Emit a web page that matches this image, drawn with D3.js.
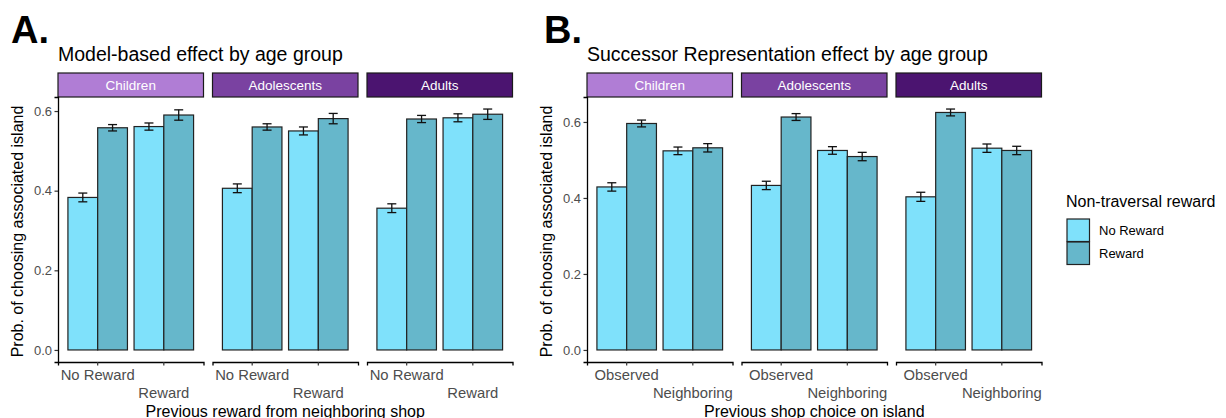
<!DOCTYPE html>
<html>
<head>
<meta charset="utf-8">
<script src="https://cdn.jsdelivr.net/npm/d3@7"></script>
<style>
  body { margin: 0; background: #fff; }
  svg { display: block; font-family: "Liberation Sans", Arial, sans-serif; }
</style>
</head>
<body>
<svg width="1226" height="418"></svg>
<script>
// facet groups and fill levels
var groups = ["Children", "Adolescents", "Adults"];
var fillLevels = ["No Reward", "Reward"];

// panel A: previous reward from neighboring shop
var mbCats = ["No Reward", "Reward"];
// order per group: [cat1-NoReward, cat1-Reward, cat2-NoReward, cat2-Reward]
var mbChildren = [0.383, 0.558, 0.561, 0.590];
var mbAdolescents = [0.406, 0.560, 0.550, 0.581];
var mbAdults = [0.356, 0.580, 0.583, 0.592];
var mbChildrenSE = [0.011, 0.008, 0.009, 0.013];
var mbAdolescentsSE = [0.011, 0.008, 0.010, 0.013];
var mbAdultsSE = [0.011, 0.009, 0.010, 0.013];

// panel B: previous shop choice on island
var srCats = ["Observed", "Neighboring"];
var srChildren = [0.429, 0.596, 0.524, 0.532];
var srAdolescents = [0.433, 0.613, 0.525, 0.509];
var srAdults = [0.403, 0.625, 0.531, 0.525];
var srChildrenSE = [0.011, 0.009, 0.010, 0.011];
var srAdolescentsSE = [0.011, 0.009, 0.010, 0.011];
var srAdultsSE = [0.012, 0.009, 0.011, 0.011];

var yTicks = [0, 0.2, 0.4, 0.6];

var stripColors = ["#b07dd5", "#7a42a1", "#4b1470"];
var fillColors = ["#7fe1fb", "#66b7cb"];

var svg = d3.select("svg");
svg.append("rect").attr("width", 1226).attr("height", 418).attr("fill", "#fff");

var panelTop = 97, panelBottom = 362, panelW = 145.5, step = 154.5;

function drawPanel(o) {
  var rows = [];
  o.means.forEach(function(m, gi) {
    m.forEach(function(v, k) {
      rows.push({ group: groups[gi], cat: o.cats[Math.floor(k / 2)], fill: fillLevels[k % 2], mean: v, se: o.ses[gi][k] });
    });
  });

  var ymax = d3.max(rows, function(d) { return d.mean + d.se; });
  var y = d3.scaleLinear()
    .domain([-0.05 * ymax, ymax * 1.05])
    .range([panelBottom, panelTop]);

  var x = d3.scaleBand().domain(o.cats).range([0, panelW]).paddingInner(0.1).paddingOuter(0.15);
  var xs = d3.scaleBand().domain(fillLevels).range([0, x.bandwidth()]);
  var color = d3.scaleOrdinal().domain(fillLevels).range(fillColors);

  // letter + title
  svg.append("text").attr("x", o.letterX).attr("y", 43)
    .attr("font-size", 38).attr("font-weight", "bold").text(o.letter);
  svg.append("text").attr("x", o.left).attr("y", 61)
    .attr("font-size", 19.5).attr("fill", "#000").text(o.title);

  groups.forEach(function(g, gi) {
    var px = o.left + gi * step;
    var pg = svg.append("g").attr("transform", "translate(" + px + ",0)");

    // strip
    pg.append("rect").attr("x", 0).attr("y", 73).attr("width", panelW).attr("height", panelTop - 73)
      .attr("fill", stripColors[gi]).attr("stroke", "#1a1a1a").attr("stroke-width", 1.2);
    pg.append("text").attr("x", panelW / 2).attr("y", 85).attr("dy", "0.35em")
      .attr("text-anchor", "middle").attr("font-size", 13.5).attr("fill", "#fff").text(g);

    var data = rows.filter(function(d) { return d.group === g; });

    pg.selectAll(".bar").data(data).enter().append("rect")
      .attr("class", "bar")
      .attr("x", function(d) { return x(d.cat) + xs(d.fill); })
      .attr("width", xs.bandwidth())
      .attr("y", function(d) { return y(d.mean); })
      .attr("height", function(d) { return y(0) - y(d.mean); })
      .attr("fill", function(d) { return color(d.fill); })
      .attr("stroke", "#222").attr("stroke-width", 1.2);

    var eb = pg.selectAll(".eb").data(data).enter().append("g").attr("class", "eb")
      .attr("stroke", "#111").attr("stroke-width", 1.3);
    var cx = function(d) { return x(d.cat) + xs(d.fill) + xs.bandwidth() / 2; };
    eb.append("line").attr("x1", cx).attr("x2", cx)
      .attr("y1", function(d) { return y(d.mean - d.se); })
      .attr("y2", function(d) { return y(d.mean + d.se); });
    [-1, 1].forEach(function(s) {
      eb.append("line")
        .attr("x1", function(d) { return cx(d) - 4.5; })
        .attr("x2", function(d) { return cx(d) + 4.5; })
        .attr("y1", function(d) { return y(d.mean + s * d.se); })
        .attr("y2", function(d) { return y(d.mean + s * d.se); });
    });

    // x axis
    var xa = pg.append("g").attr("transform", "translate(0," + panelBottom + ")")
      .call(d3.axisBottom(x).tickSizeOuter(0).tickSize(3.5).tickPadding(4.3));
    xa.select(".domain").attr("stroke", "#000").attr("stroke-width", 1.3);
    xa.selectAll(".tick line").attr("stroke", "#333").attr("stroke-width", 1.2);
    xa.selectAll(".tick text").attr("font-size", 14.8).attr("fill", "#4d4d4d")
      .attr("font-family", "Liberation Sans, Arial, sans-serif")
      .attr("y", function(d, i) { return i === 0 ? 7.5 : 25.5; });

    // y axis only on first facet
    if (gi === 0) {
      var ya = pg.append("g")
        .call(d3.axisLeft(y).tickValues(yTicks).tickFormat(d3.format(".1f")).tickSizeOuter(0).tickSize(3.5).tickPadding(2.5));
      ya.select(".domain").attr("stroke", "#000").attr("stroke-width", 1.3);
      ya.selectAll(".tick line").attr("stroke", "#333").attr("stroke-width", 1.2);
      ya.selectAll(".tick text").attr("font-size", 13).attr("fill", "#4d4d4d")
        .attr("font-family", "Liberation Sans, Arial, sans-serif");
    }
  });

  // axis titles
  svg.append("text")
    .attr("transform", "translate(" + (o.left - 35) + "," + ((panelTop + panelBottom) / 2 + 2) + ") rotate(-90)")
    .attr("text-anchor", "middle").attr("font-size", 16).text("Prob. of choosing associated island");
  svg.append("text").attr("x", o.left + (2 * step + panelW) / 2).attr("y", 417)
    .attr("text-anchor", "middle").attr("font-size", 16).text(o.xTitle);
}

drawPanel({
  left: 58, letter: "A.", letterX: 11, title: "Model-based effect by age group",
  cats: mbCats, means: [mbChildren, mbAdolescents, mbAdults],
  ses: [mbChildrenSE, mbAdolescentsSE, mbAdultsSE],
  xTitle: "Previous reward from neighboring shop"
});

drawPanel({
  left: 587, letter: "B.", letterX: 544, title: "Successor Representation effect by age group",
  cats: srCats, means: [srChildren, srAdolescents, srAdults],
  ses: [srChildrenSE, srAdolescentsSE, srAdultsSE],
  xTitle: "Previous shop choice on island"
});

// legend
var lg = svg.append("g").attr("transform", "translate(1066,0)");
lg.append("text").attr("x", 0).attr("y", 207).attr("font-size", 16).text("Non-traversal reward");
fillLevels.forEach(function(f, i) {
  lg.append("rect").attr("x", 1).attr("y", 219 + i * 23).attr("width", 22.5).attr("height", 22.5)
    .attr("fill", fillColors[i]).attr("stroke", "#222").attr("stroke-width", 1.2);
  lg.append("text").attr("x", 33).attr("y", 230 + i * 23).attr("dy", "0.35em")
    .attr("font-size", 13).text(f);
});
</script>
</body>
</html>
